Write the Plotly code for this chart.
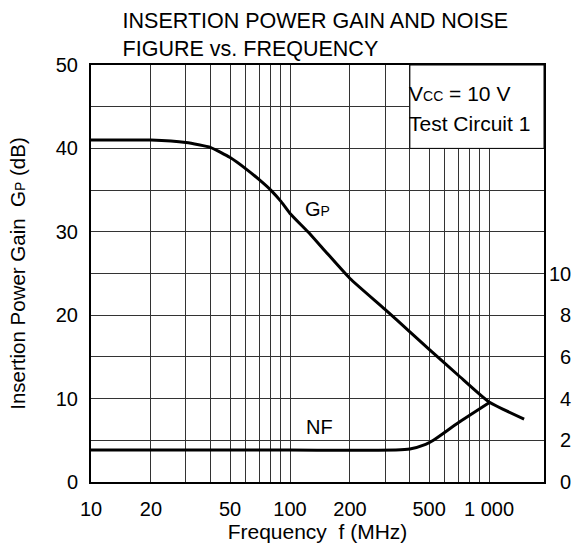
import numpy as np
import plotly.graph_objects as go

# insertion power gain (left axis, dB)
gp_freq = [10, 20, 30, 40, 50, 60, 70, 80, 90, 100, 123, 150, 200, 300, 400,
           500, 700, 1000, 1500]
gp_db = [41.0, 41.0, 40.7, 40.1, 38.9, 37.55, 36.25, 35.0, 33.65, 32.2, 30.0, 27.7,
         24.4, 20.7, 18.0, 15.9, 12.8, 9.6, 7.55]

# noise figure (right axis, dB)
nf_freq = [10, 100, 340, 400, 480, 525, 700, 1000]
nf_db = [1.53, 1.53, 1.53, 1.58, 1.8, 2.0, 2.84, 3.8]

x_ticks = [10, 20, 50, 100, 200, 500, 1000]
x_ticktext = ["10", "20", "50", "100", "200", "500", "1 000"]
x_minor = [30, 40, 60, 70, 80, 90, 300, 400, 600, 700, 800, 900]

gp_ticks = list(range(0, 51, 5))
gp_ticktext = [str(v) if v % 10 == 0 else "" for v in gp_ticks]
nf_ticks = [0, 2, 4, 6, 8, 10]

FONT = "Liberation Sans, Arial, sans-serif"
GRID = "#333333"

fig = go.Figure()
fig.add_trace(go.Scatter(x=gp_freq, y=gp_db, mode="lines",
                         line=dict(color="black", width=3, shape="spline", smoothing=0.5),
                         showlegend=False, hoverinfo="skip"))
fig.add_trace(go.Scatter(x=nf_freq, y=nf_db, mode="lines", yaxis="y2",
                         line=dict(color="black", width=3, shape="spline", smoothing=0.5),
                         showlegend=False, hoverinfo="skip"))

# white condition box in the upper right corner
fig.add_shape(type="rect", xref="x", yref="y", x0=400, x1=10 ** 3.276, y0=40, y1=50,
              fillcolor="white", line=dict(color="black", width=1), layer="above")

small = "<span style='font-size:14px'>{}</span>"
fig.add_annotation(x=0.697, y=46.55, xref="paper", yref="y", xanchor="left",
                   text="V" + small.format("CC") + " = 10 V", showarrow=False,
                   font=dict(size=21))
fig.add_annotation(x=0.697, y=42.95, xref="paper", yref="y", xanchor="left",
                   text="Test Circuit 1", showarrow=False, font=dict(size=21))
fig.add_annotation(x=np.log10(137), y=32.7, xref="x", yref="y",
                   text="G" + small.format("P"), showarrow=False, font=dict(size=20))
fig.add_annotation(x=np.log10(140), y=6.6, xref="x", yref="y",
                   text="NF", showarrow=False, font=dict(size=20))

fig.update_layout(
    width=573, height=548,
    margin=dict(l=91, r=29, t=65, b=66),
    paper_bgcolor="white", plot_bgcolor="white",
    font=dict(family=FONT, size=20, color="black"),
    title=dict(text="INSERTION POWER GAIN AND NOISE<br>FIGURE vs. FREQUENCY",
               x=0.214, xanchor="left", xref="container",
               y=0.948, yanchor="middle", yref="container",
               font=dict(size=21.5)),
    xaxis=dict(type="log", range=[1, 3.276], automargin=False,
               tickmode="array", tickvals=x_ticks, ticktext=x_ticktext,
               showgrid=True, gridcolor=GRID, gridwidth=1,
               minor=dict(tickmode="array", tickvals=x_minor, showgrid=True,
                          gridcolor=GRID, gridwidth=1, ticks=""),
               showline=True, linecolor="black", linewidth=2, mirror=True,
               ticks="", ticklabelstandoff=8,
               title=dict(text="Frequency  f (MHz)", standoff=4, font=dict(size=21)),
               zeroline=False),
    yaxis=dict(range=[0, 50], tickmode="array", tickvals=gp_ticks, ticktext=gp_ticktext,
               automargin=False,
               showgrid=True, gridcolor=GRID, gridwidth=1,
               showline=True, linecolor="black", linewidth=2, mirror=True,
               ticks="", ticklabelstandoff=7, zeroline=False,
               title=dict(text="Insertion Power Gain  G" + small.format("P") + " (dB)",
                          standoff=25, font=dict(size=20.5))),
    yaxis2=dict(range=[0, 20], overlaying="y", side="right", automargin=False,
                tickmode="array", tickvals=nf_ticks,
                ticktext=[("\u2007" if v < 10 else "") + str(v) for v in nf_ticks],
                showgrid=False, zeroline=False, ticks="", ticklabelstandoff=4),
)

# drop the default page margin so the figure sits at the window's corner
fig.write_html("out.html", config={"displayModeBar": False},
               post_script="document.body.style.margin='0';"
                           "document.body.style.overflow='hidden';")
